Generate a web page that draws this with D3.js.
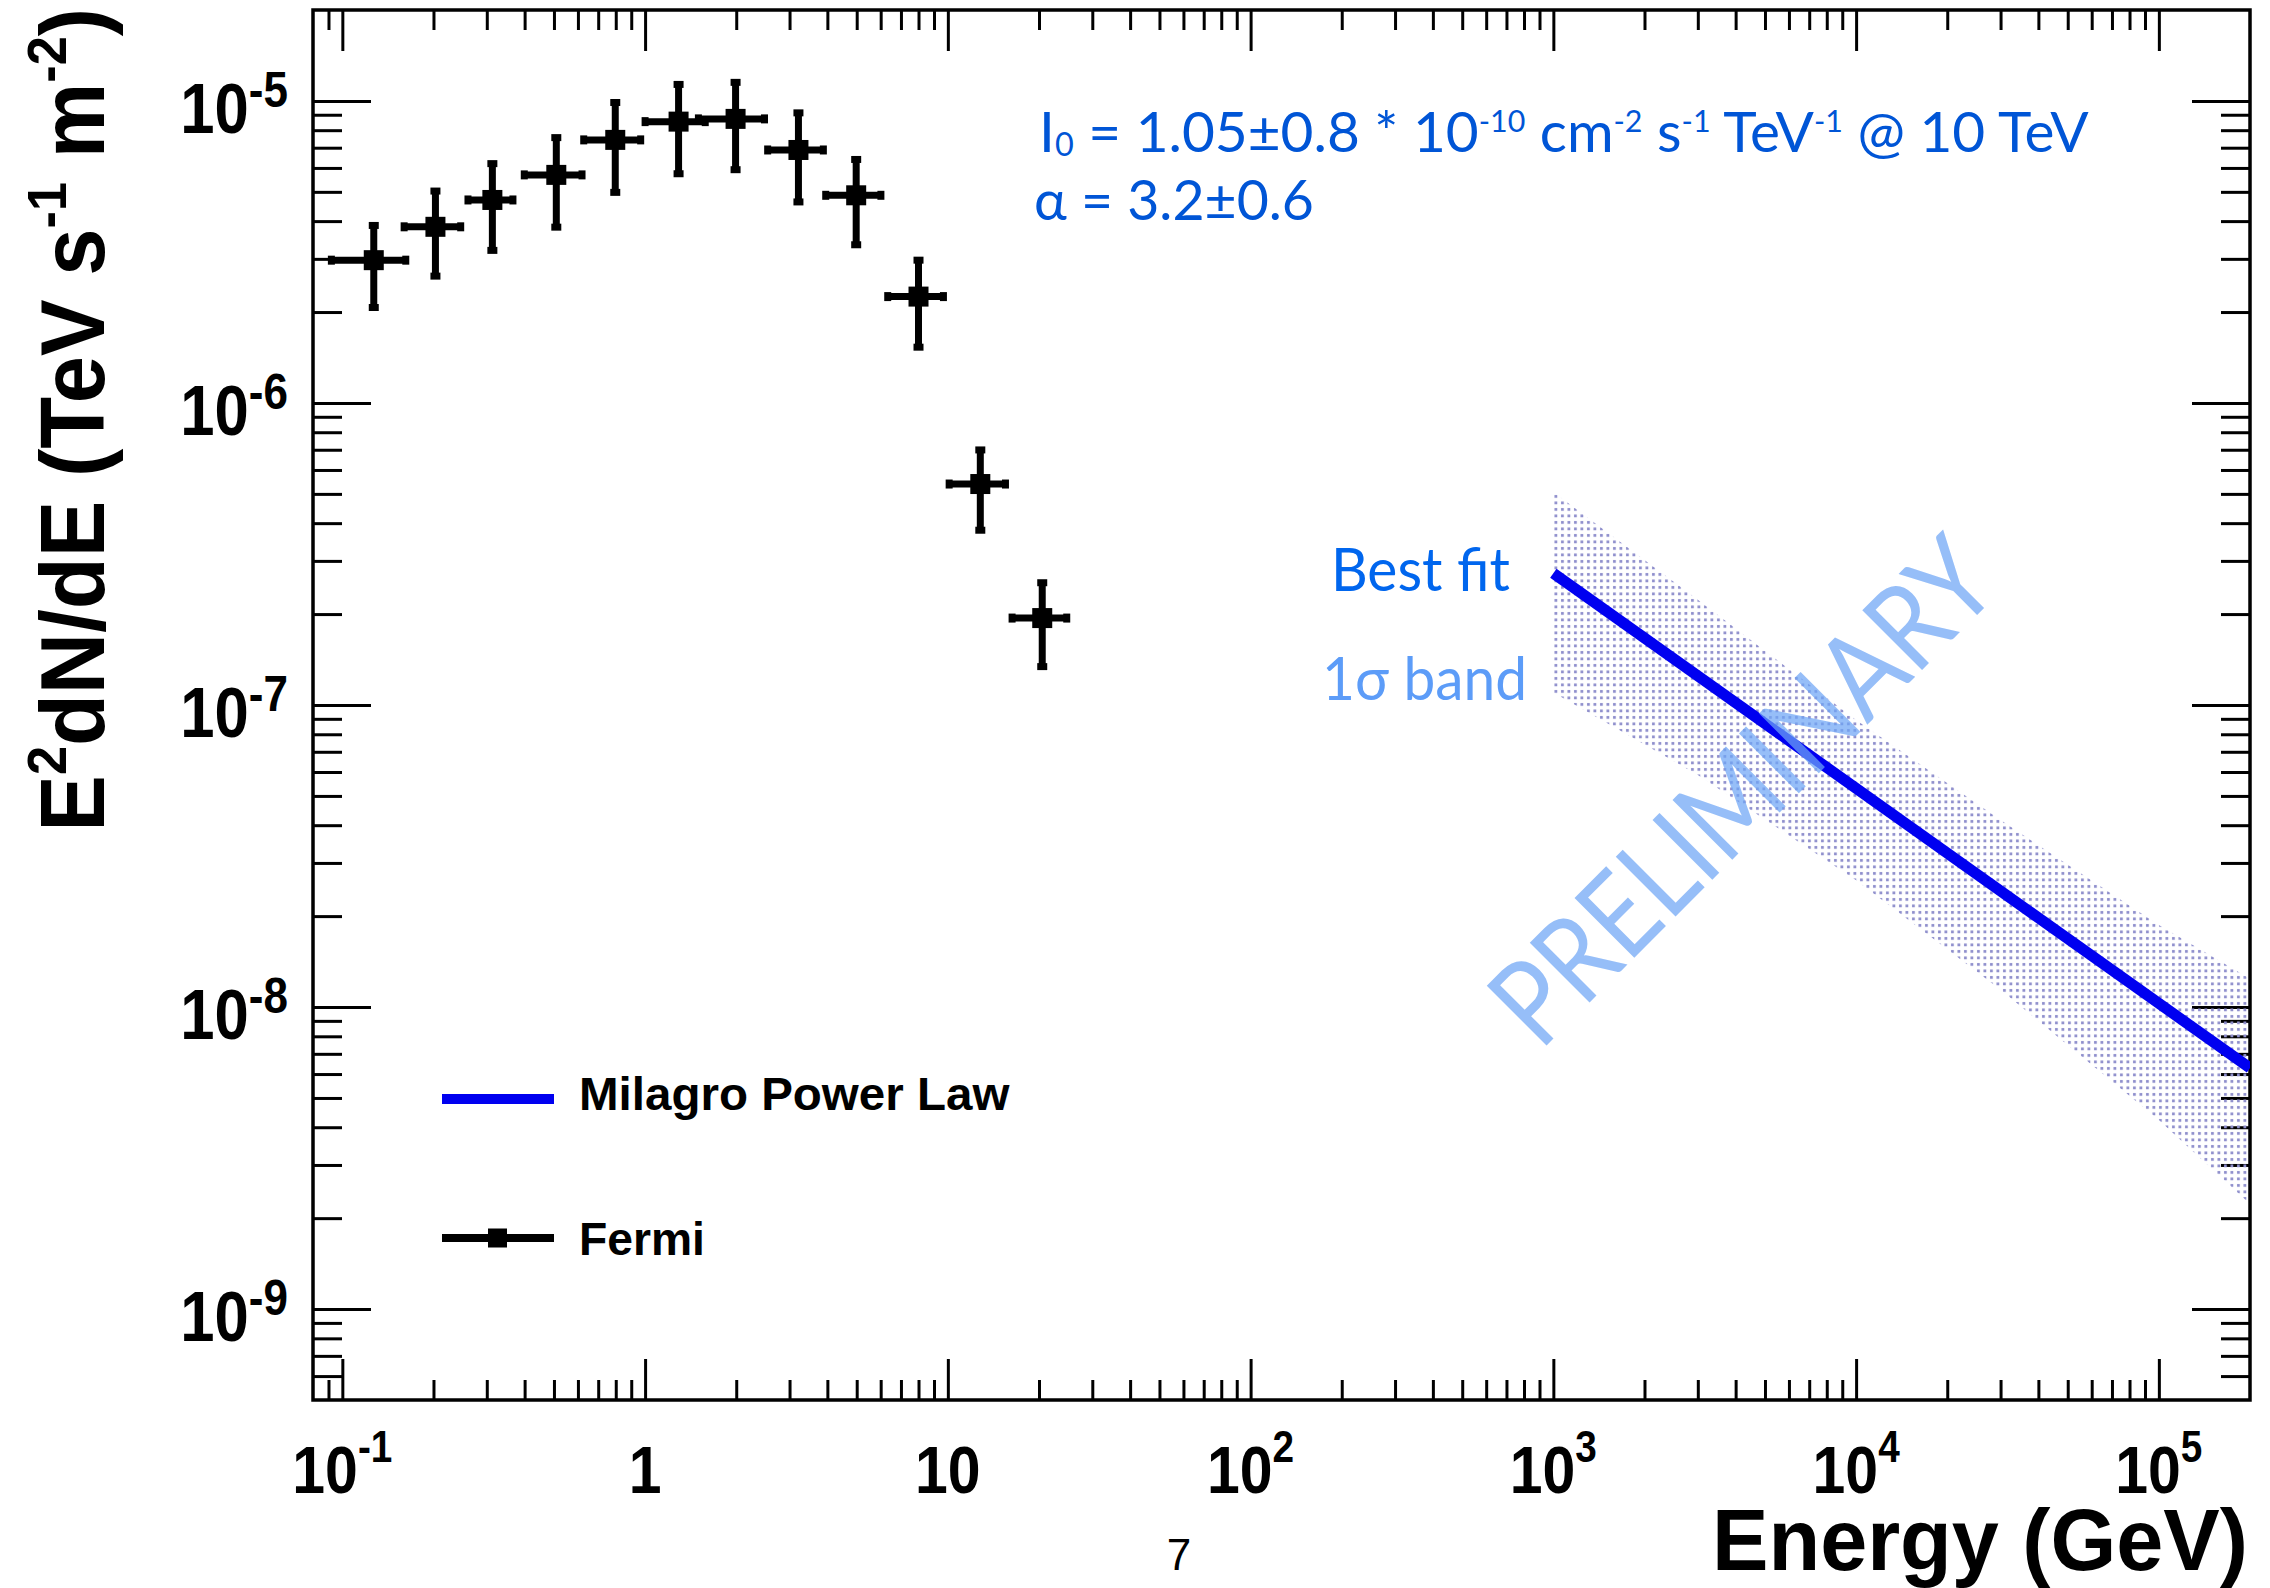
<!DOCTYPE html>
<html><head><meta charset="utf-8">
<script src="https://cdn.jsdelivr.net/npm/d3@7"></script>
<style>body{margin:0;background:#fff}svg{display:block}</style>
</head><body>
<svg id="chart" width="2270" height="1588"></svg>
<script>
// ---------------- data ----------------
const fermiEnergy    = [0.127, 0.203, 0.313, 0.509, 0.797, 1.29, 1.99, 3.21, 4.98, 8.0, 12.8, 20.5]; // GeV
const fermiEnergyErr = [0.035, 0.043, 0.053, 0.11, 0.17, 0.29, 0.49, 0.67, 1.03, 1.67, 2.7, 4.2];
const fermiFlux      = [2.97e-6, 3.83e-6, 4.70e-6, 5.69e-6, 7.43e-6, 8.54e-6, 8.72e-6, 6.88e-6, 4.87e-6, 2.25e-6, 5.39e-7, 1.94e-7];
const fermiFluxErr   = [0.9e-6, 1.2e-6, 1.5e-6, 1.87e-6, 2.45e-6, 2.8e-6, 2.8e-6, 2.25e-6, 1.53e-6, 0.72e-6, 1.6e-7, 0.6e-7];

const fitEnergy = [1000, 200000];
const fitFlux   = [2.73e-7, 6.28e-9];

const bandEnergy = [1000, 3000, 10000, 30000, 100000, 200000];
const bandUpper  = [5.07e-7, 2.23e-7, 8.92e-8, 4.16e-8, 1.87e-8, 1.24e-8];
const bandLower  = [1.10e-7, 5.87e-8, 2.63e-8, 1.14e-8, 4.23e-9, 2.23e-9];

const xTickValues = [0.1, 1, 10, 100, 1000, 10000, 100000];
const xTickBase   = ["10", "1", "10", "10", "10", "10", "10"];
const xTickExp    = ["-1", "", "", "2", "3", "4", "5"];
const yTickValues = [1e-9, 1e-8, 1e-7, 1e-6, 1e-5];
const yTickBase   = ["10", "10", "10", "10", "10"];
const yTickExp    = ["-9", "-8", "-7", "-6", "-5"];

const legendLabels = ["Milagro Power Law", "Fermi"];

// ---------------- layout ----------------
const L = 313, R = 2250, T = 10, B = 1400;
const svg = d3.select("#chart");
const x = d3.scaleLog().domain([0.08, 2e5]).range([L, R]);
const y = d3.scaleLog().domain([5e-10, 2e-5]).range([B, T]);
const BOLD = "'Liberation Sans', Arial, Helvetica, sans-serif";
const HUM = "Lato, 'Open Sans', sans-serif";

function minorTicks(dom) {
  const out = [];
  for (let d = Math.floor(Math.log10(dom[0])) - 1; d <= Math.ceil(Math.log10(dom[1])); d++)
    for (let k = 2; k <= 9; k++) {
      const v = k * Math.pow(10, d);
      if (v > dom[0] * 1.0001 && v < dom[1] * 0.9999) out.push(v);
    }
  return out;
}
function fitX(sel, target, ax) {
  const w = sel.node().getBBox().width;
  const s = target / w;
  sel.attr("transform", `translate(${ax},0) scale(${s},1) translate(${-ax},0)`);
}

const defs = svg.append("defs");
defs.append("clipPath").attr("id", "plotClip").append("rect")
  .attr("x", L).attr("y", T).attr("width", R - L).attr("height", B - T);
const pat = defs.append("pattern").attr("id", "dots").attr("patternUnits", "userSpaceOnUse")
  .attr("width", 6.5).attr("height", 6.5);
pat.append("rect").attr("x", 1).attr("y", 1).attr("width", 2.8).attr("height", 2.8).attr("fill", "#8f8fcc");

// ---------------- axes ----------------
const axG = svg.append("g");
function drawAxis(gen, tr) {
  const g = axG.append("g").attr("transform", tr).call(gen);
  g.select(".domain").remove();
  g.selectAll("text").remove();
  g.selectAll("line").attr("stroke", "#000").attr("stroke-width", 3);
}
const xMinor = minorTicks(x.domain()), yMinor = minorTicks(y.domain());
drawAxis(d3.axisBottom(x).tickValues(xTickValues).tickSize(-41).tickFormat(""), `translate(0,${B})`);
drawAxis(d3.axisBottom(x).tickValues(xMinor).tickSize(-20).tickFormat(""), `translate(0,${B})`);
drawAxis(d3.axisTop(x).tickValues(xTickValues).tickSize(-41).tickFormat(""), `translate(0,${T})`);
drawAxis(d3.axisTop(x).tickValues(xMinor).tickSize(-20).tickFormat(""), `translate(0,${T})`);
drawAxis(d3.axisLeft(y).tickValues(yTickValues).tickSize(-58).tickFormat(""), `translate(${L},0)`);
drawAxis(d3.axisLeft(y).tickValues(yMinor).tickSize(-29).tickFormat(""), `translate(${L},0)`);
drawAxis(d3.axisRight(y).tickValues(yTickValues).tickSize(-58).tickFormat(""), `translate(${R},0)`);
drawAxis(d3.axisRight(y).tickValues(yMinor).tickSize(-29).tickFormat(""), `translate(${R},0)`);
svg.append("rect").attr("x", L).attr("y", T).attr("width", R - L).attr("height", B - T)
  .attr("fill", "none").attr("stroke", "#000").attr("stroke-width", 3.5);

// tick labels
xTickValues.forEach((v, i) => {
  const t = svg.append("text").attr("x", x(v)).attr("y", 1493).attr("text-anchor", "middle")
    .attr("font-family", BOLD).attr("font-weight", "bold").attr("font-size", 67);
  t.append("tspan").text(xTickBase[i]);
  if (xTickExp[i]) t.append("tspan").attr("font-size", 44).attr("dy", -31).text(xTickExp[i]);
  t.attr("transform", `translate(${x(v)},0) scale(0.88,1) translate(${-x(v)},0)`);
});
yTickValues.forEach((v, i) => {
  const t = svg.append("text").attr("x", 288).attr("y", y(v) + 32).attr("text-anchor", "end")
    .attr("font-family", BOLD).attr("font-weight", "bold").attr("font-size", 70);
  t.append("tspan").text(yTickBase[i]);
  t.append("tspan").attr("font-size", 50).attr("dy", -26).text(yTickExp[i]);
  t.attr("transform", `translate(288,0) scale(0.88,1) translate(-288,0)`);
});

// axis titles
const xt = svg.append("text").attr("x", 2248).attr("y", 1570).attr("text-anchor", "end")
  .attr("font-family", BOLD).attr("font-weight", "bold").attr("font-size", 88).text("Energy (GeV)");
fitX(xt, 536, 2248);

const ytg = svg.append("g").attr("transform", "translate(104,8) rotate(-90)");
const yt = ytg.append("text").attr("x", 0).attr("y", 0).attr("text-anchor", "end")
  .attr("font-family", BOLD).attr("font-weight", "bold").attr("font-size", 91);
yt.append("tspan").text("E");
yt.append("tspan").attr("font-size", 56).attr("dy", -38).text("2");
yt.append("tspan").attr("dy", 38).text("dN/dE (TeV s");
yt.append("tspan").attr("font-size", 56).attr("dy", -38).text("-1");
yt.append("tspan").attr("dy", 38).text(" m");
yt.append("tspan").attr("font-size", 56).attr("dy", -38).text("-2");
yt.append("tspan").attr("dy", 38).text(")");
fitX(yt, 824, 0);

// page number
svg.append("text").attr("x", 1179).attr("y", 1570).attr("text-anchor", "middle")
  .attr("font-family", BOLD).attr("font-size", 44).text("7");

// ---------------- band + fit ----------------
const plotG = svg.append("g").attr("clip-path", "url(#plotClip)");
const bandData = bandEnergy.map((e, i) => ({e, lo: bandLower[i], hi: bandUpper[i]}));
plotG.append("path").datum(bandData)
  .attr("d", d3.area().x(d => x(d.e)).y0(d => y(d.lo)).y1(d => y(d.hi)))
  .attr("fill", "url(#dots)");
const fitData = fitEnergy.map((e, i) => ({e, f: fitFlux[i]}));
plotG.append("path").datum(fitData)
  .attr("d", d3.line().x(d => x(d.e)).y(d => y(d.f)))
  .attr("fill", "none").attr("stroke", "#0000f0").attr("stroke-width", 11);

// ---------------- Fermi points ----------------
const pg = svg.append("g");
fermiEnergy.forEach((e, i) => {
  const cx = x(e), cy = y(fermiFlux[i]);
  const y1 = y(fermiFlux[i] + fermiFluxErr[i]), y2 = y(fermiFlux[i] - fermiFluxErr[i]);
  const x1 = x(e - fermiEnergyErr[i]), x2 = x(e + fermiEnergyErr[i]);
  const g = pg.append("g").attr("stroke", "#000").attr("stroke-width", 7);
  g.append("line").attr("x1", cx).attr("x2", cx).attr("y1", y1).attr("y2", y2);
  g.append("line").attr("x1", x1).attr("x2", x2).attr("y1", cy).attr("y2", cy);
  [y1, y2].forEach(yy => g.append("line").attr("x1", cx - 5).attr("x2", cx + 5).attr("y1", yy).attr("y2", yy));
  [x1, x2].forEach(xx => g.append("line").attr("x1", xx).attr("x2", xx).attr("y1", cy - 4.5).attr("y2", cy + 4.5));
  pg.append("rect").attr("x", cx - 10).attr("y", cy - 10).attr("width", 20).attr("height", 20).attr("fill", "#000");
});

// ---------------- legend ----------------
svg.append("line").attr("x1", 442).attr("x2", 554).attr("y1", 1099).attr("y2", 1099)
  .attr("stroke", "#0000f0").attr("stroke-width", 10);
const l1 = svg.append("text").attr("x", 579).attr("y", 1110).attr("font-family", BOLD)
  .attr("font-weight", "bold").attr("font-size", 47).text(legendLabels[0]);
fitX(l1, 431, 579);
svg.append("line").attr("x1", 442).attr("x2", 554).attr("y1", 1238).attr("y2", 1238)
  .attr("stroke", "#000").attr("stroke-width", 8);
svg.append("rect").attr("x", 488).attr("y", 1228.5).attr("width", 19).attr("height", 19).attr("fill", "#000");
const l2 = svg.append("text").attr("x", 579).attr("y", 1255).attr("font-family", BOLD)
  .attr("font-weight", "bold").attr("font-size", 47).text(legendLabels[1]);
fitX(l2, 126, 579);

// ---------------- annotations ----------------
const a1 = svg.append("text").attr("x", 1039).attr("y", 152).attr("font-family", HUM)
  .attr("font-size", 56).attr("fill", "#0055d6");
a1.append("tspan").text("I");
a1.append("tspan").attr("font-size", 32).attr("dy", 4).text("0");
a1.append("tspan").attr("dy", -4).text(" = 1.05±0.8 * 10");
a1.append("tspan").attr("font-size", 30).attr("dy", -20).text("-10");
a1.append("tspan").attr("dy", 20).text(" cm");
a1.append("tspan").attr("font-size", 30).attr("dy", -20).text("-2");
a1.append("tspan").attr("dy", 20).text(" s");
a1.append("tspan").attr("font-size", 30).attr("dy", -20).text("-1");
a1.append("tspan").attr("dy", 20).text(" TeV");
a1.append("tspan").attr("font-size", 30).attr("dy", -20).text("-1");
a1.append("tspan").attr("dy", 20).text(" @ 10 TeV");
fitX(a1, 1050, 1039);
const a2 = svg.append("text").attr("x", 1034).attr("y", 220).attr("font-family", HUM)
  .attr("font-size", 56).attr("fill", "#0055d6").text("α = 3.2±0.6");
fitX(a2, 280, 1034);

const b1 = svg.append("text").attr("x", 1331).attr("y", 591).attr("font-family", HUM)
  .attr("font-size", 60).attr("fill", "#0066ee").text("Best fit");
fitX(b1, 179, 1331);
const b2 = svg.append("text").attr("x", 1322).attr("y", 700).attr("font-family", HUM)
  .attr("font-size", 60).attr("fill", "#5c9cf8").text("1σ band");
fitX(b2, 205, 1322);

const pr = svg.append("g").attr("transform", "translate(1540,1052) rotate(-45)");
const prt = pr.append("text").attr("x", 0).attr("y", 0).attr("font-family", HUM)
  .attr("font-size", 118).attr("fill", "#6ea5f5").attr("fill-opacity", 0.72).text("PRELIMINARY");
fitX(prt, 655, 0);
</script>
</body></html>
